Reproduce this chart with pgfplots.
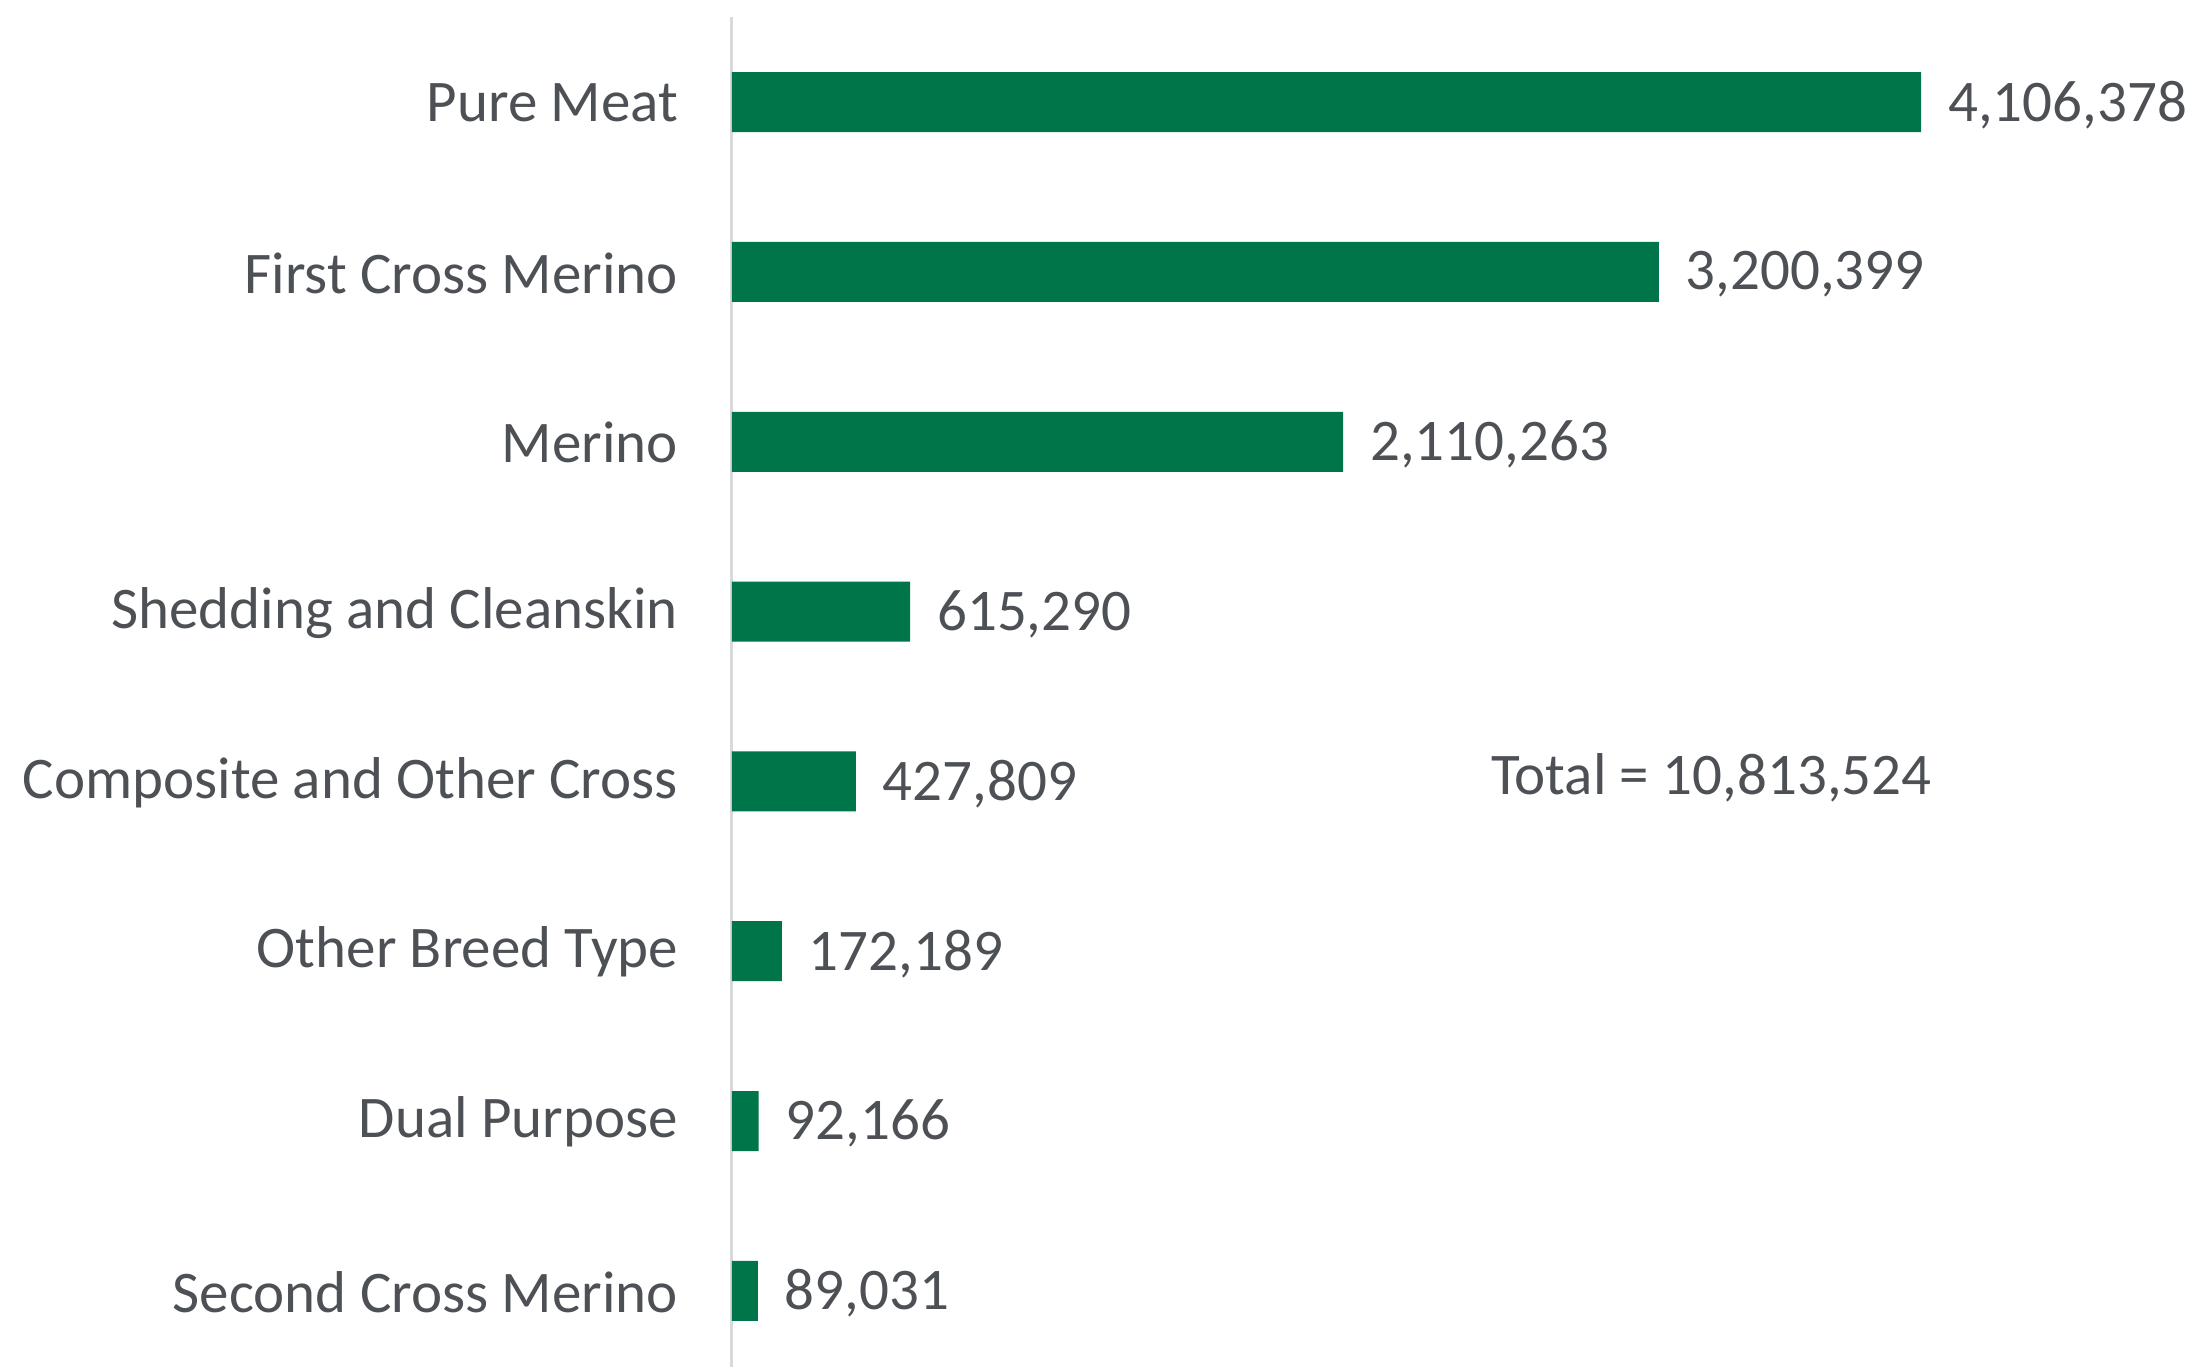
\documentclass[border=0pt]{standalone}
\usepackage{pgfplots}
\pgfplotsset{compat=1.18}
\usepackage{fontspec}
\setmainfont{Carlito}
\definecolor{bargreen}{HTML}{00754A}
\definecolor{textgray}{HTML}{4D5156}
\definecolor{axisgray}{HTML}{D9D9D9}
\begin{document}
\begin{tikzpicture}
\path (-146.2pt,0pt) rectangle (292.2pt,273.8pt);
\begin{axis}[
  at={(0.2pt,0.35pt)}, anchor=south west,
  scale only axis, width=292pt, height=270pt,
  xbar, bar width=12pt,
  xmin=0, xmax=5041500,
  ymin=-0.5, ymax=7.45, y dir=reverse,
  axis x line=none,
  axis y line*=left,
  axis line style={draw=axisgray, line width=0.6pt, -},
  ytick={0,...,7},
  yticklabels={Pure Meat, First Cross Merino, Merino, Shedding and Cleanskin, Composite and Other Cross, Other Breed Type, Dual Purpose, Second Cross Merino},
  major tick length=0pt,
  ytick style={draw=none},
  yticklabel style={font=\fontsize{11.8}{14}\selectfont, text=textgray, inner xsep=0pt, xshift=-10.6pt, yshift=-0.2pt},
  clip=false,
  point meta=explicit symbolic,
  nodes near coords,
  nodes near coords style={anchor=west, inner xsep=0pt, xshift=5.2pt, yshift=-0.5pt, font=\fontsize{11.8}{14}\selectfont, text=textgray},
]
\addplot[fill=bargreen, draw=none] coordinates {
  (4106378,0) [4,106,378]
  (3200399,1) [3,200,399]
  (2110263,2) [2,110,263]
  (615290,3) [615,290]
  (427809,4) [427,809]
  (172189,5) [172,189]
  (92166,6) [92,166]
  (89031,7) [89,031]
};
\node[font=\fontsize{11.8}{14}\selectfont, text=textgray, inner sep=0pt] at (axis cs:3381700,3.98) {Total = 10,813,524};
\end{axis}
\end{tikzpicture}
\end{document}
